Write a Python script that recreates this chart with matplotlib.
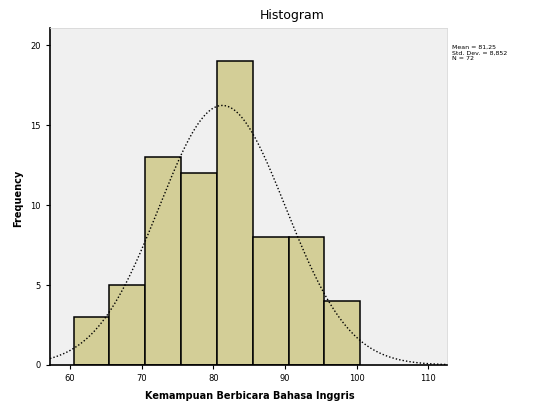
import numpy as np
import matplotlib.pyplot as plt

# bin edges and counts
bin_edges = [60.5, 65.5, 70.5, 75.5, 80.5, 85.5, 90.5, 95.5, 100.5]
counts = [3, 5, 13, 12, 19, 8, 8, 4]
mean = 81.25
std = 8.852
n = 72
x_ticks = [60, 70, 80, 90, 100, 110]
y_ticks = [0, 5, 10, 15, 20]

fig = plt.figure(figsize=(5.35, 4.03), dpi=100)
ax = fig.add_axes([0.0935, 0.0943, 0.742, 0.836])
ax.set_facecolor('#f0f0f0')

widths = np.diff(bin_edges)
ax.bar(bin_edges[:-1], counts, width=widths, align='edge',
       color='#d3ce97', edgecolor='black', linewidth=1.1, zorder=2)

# normal curve
xs = np.linspace(57.2, 112.6, 400)
bw = widths[0]
ys = n * bw / (std * np.sqrt(2 * np.pi)) * np.exp(-0.5 * ((xs - mean) / std) ** 2)
ax.plot(xs, ys, color='black', linestyle=(0, (1, 1.5)), linewidth=1.0, zorder=3)

ax.set_xlim(57.2, 112.6)
ax.set_ylim(0, 21.06)
ax.set_xticks(x_ticks)
ax.set_yticks(y_ticks)
ax.tick_params(labelsize=6, length=3, width=0.8)

for s in ['top', 'right']:
    ax.spines[s].set_color('#d8d8d8')
    ax.spines[s].set_linewidth(0.6)
for s in ['left', 'bottom']:
    ax.spines[s].set_linewidth(1.2)

fig.text(292 / 535, 1 - 15 / 403, 'Histogram', ha='center', va='center', fontsize=9)
fig.text(250 / 535, 1 - 396 / 403, 'Kemampuan Berbicara Bahasa Inggris',
         ha='center', va='center', fontsize=7, fontweight='bold')
fig.text(18 / 535, 1 - 198 / 403, 'Frequency', ha='center', va='center',
         rotation=90, fontsize=7, fontweight='bold')

stats = 'Mean = %s\nStd. Dev. = %s\nN = %d' % (
    ('%.2f' % mean).replace('.', ','), ('%.3f' % std).replace('.', ','), n)
fig.text(452 / 535, 1 - 45 / 403, stats, ha='left', va='top', fontsize=4.5,
         linespacing=1.15)

fig.savefig('out.png', dpi=100)
